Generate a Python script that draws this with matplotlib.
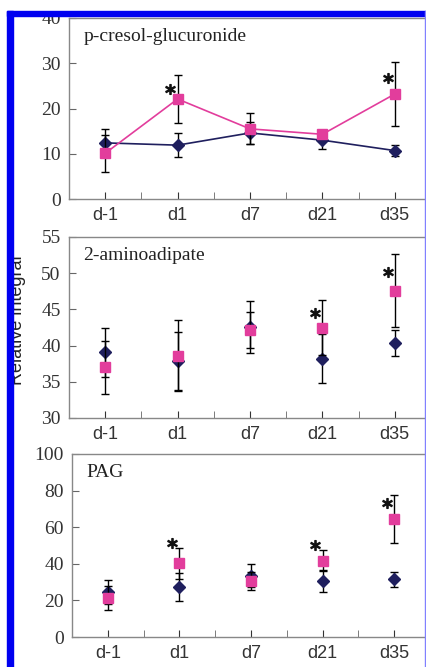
import matplotlib.pyplot as plt
from matplotlib.patches import Rectangle
from matplotlib.ticker import MultipleLocator
import numpy as np

days = ["d-1", "d1", "d7", "d21", "d35"]

# p-cresol-glucuronide
pcg_ctrl = [12.4, 11.9, 14.6, 13.0, 10.7]
pcg_ctrl_err = [3.1, 2.7, 2.5, 2.0, 1.2]
pcg_trt = [10.1, 22.1, 15.5, 14.3, 23.2]
pcg_trt_err = [4.1, 5.3, 3.4, 0.9, 7.0]
pcg_stars = [(1, 24.3), (4, 26.7)]

# 2-aminoadipate
aad_ctrl = [39.1, 37.9, 42.6, 38.2, 40.4]
aad_ctrl_err = [3.4, 4.0, 3.6, 3.4, 1.8]
aad_trt = [37.0, 38.6, 42.2, 42.5, 47.6]
aad_trt_err = [3.7, 4.9, 2.5, 3.8, 5.0]
aad_stars = [(3, 44.5), (4, 50.1)]

# PAG
pag_ctrl = [24.5, 27.5, 33.5, 30.8, 31.5]
pag_ctrl_err = [6.5, 7.7, 6.4, 6.0, 4.0]
pag_trt = [21.5, 40.2, 30.6, 41.6, 64.4]
pag_trt_err = [6.5, 8.5, 5.0, 5.7, 13.3]
pag_stars = [(1, 51.2), (3, 50.3), (4, 73.4)]

navy = "#1f1f5e"
pink = "#e23d9c"

W, H = 427, 667
fig = plt.figure(figsize=(W / 100, H / 100), dpi=100)

panels = [
    # name, ctrl, ctrl_err, trt, trt_err, stars, ylim, step, lines, (left, top, bottom, right) px
    ("p-cresol-glucuronide", pcg_ctrl, pcg_ctrl_err, pcg_trt, pcg_trt_err, pcg_stars,
     (0, 40), 10, True, (69, 18, 199, 431)),
    ("2-aminoadipate", aad_ctrl, aad_ctrl_err, aad_trt, aad_trt_err, aad_stars,
     (30, 55), 5, False, (69, 237, 418, 431)),
    ("PAG", pag_ctrl, pag_ctrl_err, pag_trt, pag_trt_err, pag_stars,
     (0, 100), 20, False, (72, 454, 637, 430)),
]

x = np.arange(len(days))
for name, c, ce, t, te, stars, ylim, step, lines, box in panels:
    l, top, bot, r = box
    ax = fig.add_axes([l / W, 1 - bot / H, (r - l) / W, (bot - top) / H])
    ls = "-" if lines else "none"
    ax.errorbar(x, c, yerr=ce, color=navy, marker="D", ms=6, ls=ls, lw=1.2,
                ecolor="black", elinewidth=1, capsize=3, capthick=1, zorder=3)
    ax.errorbar(x, t, yerr=te, color=pink, marker="s", ms=7, ls=ls, lw=1.2,
                ecolor="black", elinewidth=1, capsize=3, capthick=1, zorder=4)
    for i, v in stars:
        ax.plot(i - 0.1, v, marker="$*$", ms=7, color="#111111", ls="none", zorder=5)
    ax.set_xlim(-0.5, 4.5)
    ax.set_ylim(*ylim)
    ax.yaxis.set_major_locator(MultipleLocator(step))
    ax.set_xticks(x)
    ax.set_xticks(x[:-1] + 0.5, minor=True)
    ax.set_xticklabels(days, family="Liberation Sans", fontsize=13)
    for lab in ax.get_yticklabels():
        lab.set_family("Liberation Serif")
        lab.set_fontsize(14)
        lab.set_color("#333333")
    ax.tick_params(axis="both", which="both", direction="in", length=5, color="#666666")
    ax.tick_params(axis="x", which="major", pad=6, colors="#333333")
    ax.tick_params(axis="x", which="minor", length=5)
    ax.tick_params(axis="y", pad=6)
    ax.spines["right"].set_visible(False)
    for s in ax.spines.values():
        s.set_color("#888888")
        s.set_linewidth(1.0)
    ax.text(0.04, 0.9, name, transform=ax.transAxes, family="Liberation Serif",
            fontsize=14, color="#222222", va="center", ha="left")

fig.text(18 / W, 1 - 320 / H, "Relative integral", rotation=90, family="Liberation Sans",
         fontsize=13, color="#222222", ha="center", va="center")

# blue frame around the figure
fig.add_artist(Rectangle((7 / W, 0), 6 / W, 1 - 11 / H, transform=fig.transFigure,
                         color="#0000f0", zorder=10))
fig.add_artist(Rectangle((7 / W, 1 - 16 / H), 1 - 7 / W, 5 / H, transform=fig.transFigure,
                         color="#0000f0", zorder=10))
fig.add_artist(Rectangle((425 / W, 0), 1.5 / W, 1 - 11 / H, transform=fig.transFigure,
                         color="#8080ff", zorder=10))

fig.savefig("out.png", dpi=100)
